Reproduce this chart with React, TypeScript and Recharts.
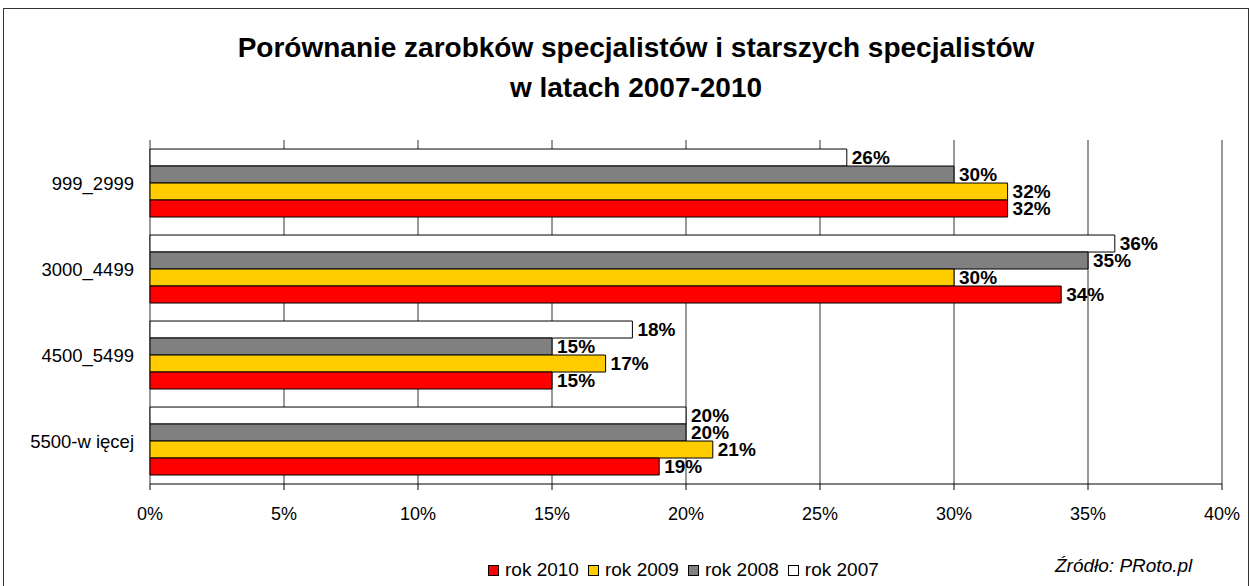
import { BarChart, Bar, XAxis, YAxis, CartesianGrid, LabelList } from 'recharts';

const categories = ['999_2999', '3000_4499', '4500_5499', '5500-w ięcej'];
const rok2007 = [26, 36, 18, 20];
const rok2008 = [30, 35, 15, 20];
const rok2009 = [32, 30, 17, 21];
const rok2010 = [32, 34, 15, 19];
const xTicks = [0, 5, 10, 15, 20, 25, 30, 35, 40];

const series = [
  { key: 'r2007', name: 'rok 2007', color: '#ffffff' },
  { key: 'r2008', name: 'rok 2008', color: '#808080' },
  { key: 'r2009', name: 'rok 2009', color: '#ffcc00' },
  { key: 'r2010', name: 'rok 2010', color: '#ff0000' },
];

const data = categories.map((c, i) => ({
  cat: c,
  r2007: rok2007[i],
  r2008: rok2008[i],
  r2009: rok2009[i],
  r2010: rok2010[i],
}));

const font = 'Arial, "Liberation Sans", sans-serif';

export default function App() {
  return (
    <div style={{ position: 'absolute', left: 0, top: 0, width: 1250, height: 586, background: '#fff', fontFamily: font, overflow: 'hidden' }}>
      <div style={{ position: 'absolute', left: 3, top: 8, width: 1244, height: 620, border: '1px solid #333' }} />
      <div style={{ position: 'absolute', left: 0, top: 28, width: 1272, textAlign: 'center', fontWeight: 'bold', fontSize: 28, lineHeight: '40px', color: '#000' }}>
        Porównanie zarobków specjalistów i starszych specjalistów
        <br />
        w latach 2007-2010
      </div>
      <div style={{ position: 'absolute', left: 0, top: 0 }}>
        <BarChart
          width={1250}
          height={586}
          data={data}
          layout="vertical"
          margin={{ top: 140, right: 28, bottom: 72, left: 10 }}
          barCategoryGap="10.5%"
          barGap={0}
        >
          <CartesianGrid horizontal={false} stroke="#333" strokeWidth={1} />
          <XAxis
            type="number"
            domain={[0, 40]}
            ticks={xTicks}
            tickFormatter={(v: number) => `${v}%`}
            tick={{ fontSize: 18, fill: '#000', fontFamily: font }}
            axisLine={{ stroke: '#000' }}
            tickLine={{ stroke: '#000' }}
            tickSize={6}
            tickMargin={17}
            height={30}
          />
          <YAxis
            yAxisId="frame"
            type="number"
            domain={[0, 4]}
            ticks={[0, 1, 2, 3, 4]}
            width={0}
            axisLine={{ stroke: '#000' }}
            tickLine={{ stroke: '#000' }}
            tickSize={5}
            tick={() => <g />}
          />
          <YAxis
            type="category"
            dataKey="cat"
            width={140}
            axisLine={false}
            tickLine={false}
            tickSize={5}
            tickMargin={11}
            tick={{ fontSize: 18.5, fill: '#000', fontFamily: font }}
          />
          {series.map(s => (
            <Bar key={s.key} dataKey={s.key} name={s.name} fill={s.color} stroke="#000" strokeWidth={1} isAnimationActive={false}>
              <LabelList
                dataKey={s.key}
                position="right"
                offset={5}
                formatter={(v: any) => `${v}%`}
                style={{ fontSize: 19, fontWeight: 'bold', fill: '#000', fontFamily: font }}
              />
            </Bar>
          ))}
        </BarChart>
      </div>
      <div style={{ position: 'absolute', left: 488, top: 559, height: 22, display: 'flex', alignItems: 'center', fontSize: 19, color: '#000', whiteSpace: 'nowrap' }}>
        {[...series].reverse().map(s => (
          <span key={s.key} style={{ display: 'flex', alignItems: 'center', marginRight: 9 }}>
            <span style={{ display: 'inline-block', width: 9, height: 9, background: s.color, border: '1px solid #000', marginRight: 6 }} />
            {s.name}
          </span>
        ))}
      </div>
      <div style={{ position: 'absolute', left: 1055, top: 555, fontSize: 19, fontStyle: 'italic', color: '#000', whiteSpace: 'nowrap' }}>
        Źródło: PRoto.pl
      </div>
    </div>
  );
}
